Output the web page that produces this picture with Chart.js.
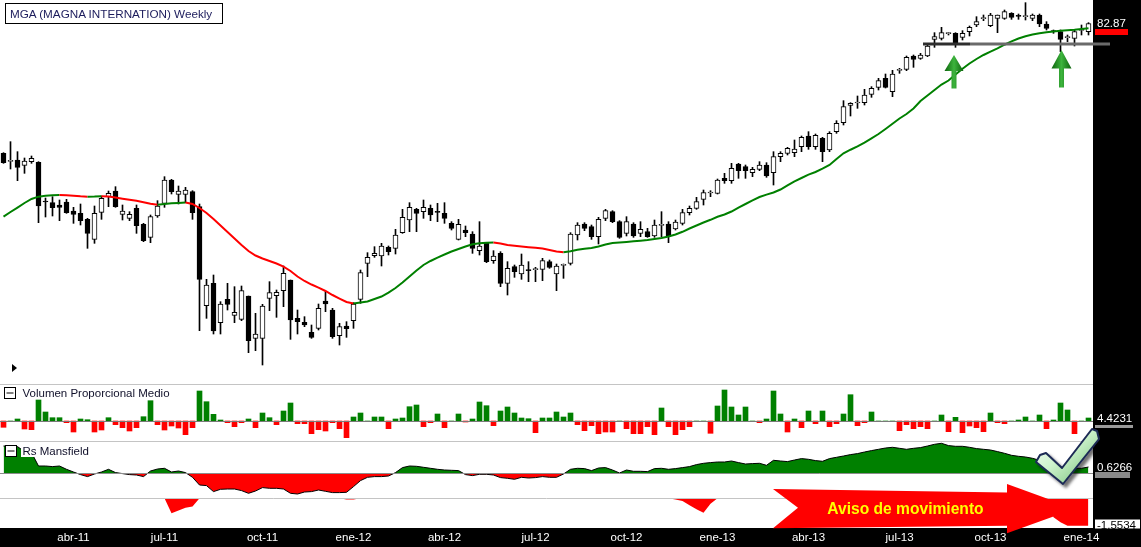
<!DOCTYPE html>
<html>
<head>
<meta charset="utf-8">
<title>MGA Weekly</title>
<script src="https://cdn.jsdelivr.net/npm/chart.js@4.4.1/dist/chart.umd.min.js"></script>
<style>
  html, body { margin: 0; padding: 0; background: #fff; }
  #wrap { position: relative; width: 1141px; height: 547px; overflow: hidden; background: #fff; }
  canvas.pane { position: absolute; left: 0; }
  #strip { position: absolute; left: 1093px; top: 0; width: 48px; height: 547px; background: #000; }
  #band { position: absolute; left: 0; top: 528px; width: 1141px; height: 19px; background: #000; }
  .sep { position: absolute; left: 0; width: 1093px; height: 1px; background: #c4c4c4; }
  #overlay { position: absolute; left: 0; top: 0; pointer-events: none; font-family: 'Liberation Sans', Arial, sans-serif; }
</style>
</head>
<body>
<div id="wrap">
  <div id="strip"></div>
  <div id="band"></div>
  <canvas id="price" class="pane" width="1141" height="383" style="top:0;width:1141px;height:383px"></canvas>
  <canvas id="volume" class="pane" width="1141" height="57" style="top:384px;width:1141px;height:57px"></canvas>
  <canvas id="rs" class="pane" width="1141" height="106" style="top:441px;width:1141px;height:106px"></canvas>
  <div class="sep" style="top:384px"></div>
  <div class="sep" style="top:441px"></div>

  <svg id="overlay" width="1141" height="547" viewBox="0 0 1141 547">
    <defs>
      <linearGradient id="arrowG" x1="0" y1="0" x2="1" y2="0">
        <stop offset="0" stop-color="#0d640d"/>
        <stop offset="0.5" stop-color="#3db43d"/>
        <stop offset="1" stop-color="#0d640d"/>
      </linearGradient>
      <linearGradient id="checkG" x1="0" y1="0" x2="1" y2="1">
        <stop offset="0" stop-color="#ffffff"/>
        <stop offset="0.45" stop-color="#cdf2cd"/>
        <stop offset="1" stop-color="#6cbc6c"/>
      </linearGradient>
      <filter id="shadow" x="-30%" y="-30%" width="170%" height="170%">
        <feDropShadow dx="3" dy="3" stdDeviation="1.5" flood-color="#000" flood-opacity="0.55"/>
      </filter>
    </defs>

    <!-- title -->
    <rect x="5.5" y="3.5" width="217" height="20" fill="#fff" stroke="#000"/>
    <text x="10" y="18" font-size="11.7" fill="#1c1c5c">MGA (MAGNA INTERNATION) Weekly</text>

    <!-- support line and arrows -->
    <line x1="923" y1="44" x2="970" y2="44" stroke="#2e2e2e" stroke-width="3"/>
    <line x1="970" y1="44" x2="1110" y2="44" stroke="#6a6a6a" stroke-width="3"/>
    <polygon points="954,55 963.5,71 956.5,71 956.5,88.5 951.5,88.5 951.5,71 944.5,71" fill="url(#arrowG)"/>
    <polygon points="1061.5,50 1071.5,68.5 1064,68.5 1064,87.5 1059,87.5 1059,68.5 1051.5,68.5" fill="url(#arrowG)"/>
    <polygon points="12,364 12,372 17,368" fill="#000"/>

    <!-- pane labels -->
    <rect x="21" y="386" width="148" height="13" fill="#fff"/>
    <rect x="4.5" y="387.5" width="11" height="11" fill="#fff" stroke="#000"/>
    <line x1="6.5" y1="393" x2="13.5" y2="393" stroke="#000"/>
    <text x="22.5" y="397.3" font-size="11.5" fill="#10102a">Volumen Proporcional Medio</text>

    <rect x="21" y="443" width="69" height="14" fill="#fff"/>
    <rect x="5.5" y="445.5" width="11" height="11" fill="#fff" stroke="#000"/>
    <line x1="7.5" y1="451" x2="14.5" y2="451" stroke="#000"/>
    <text x="22.5" y="454.5" font-size="11.5" fill="#10102a">Rs Mansfield</text>

    <!-- right axis values -->
    <text x="1097" y="27.3" font-size="11.5" fill="#fff">82.87</text>
    <rect x="1095" y="29" width="33" height="6" fill="#ff0000"/>
    <text x="1097" y="421.7" font-size="11.5" fill="#fff">4.4231</text>
    <rect x="1095" y="425" width="38" height="3" fill="#9a9a9a"/>
    <text x="1097" y="470.7" font-size="11.5" fill="#fff">0.6266</text>
    <rect x="1095" y="472" width="35" height="6" fill="#8a8a8a"/>
    <rect x="1095" y="519.5" width="45" height="9" fill="#fff"/>
    <text x="1097" y="529" font-size="11.5" fill="#000">-1.5534</text>

    <!-- warning arrow -->
    <polygon points="773,489 1007,492.5 1007,484 1075,508.7 1007,533.3 1007,525.7 773,528.3 798,507.7" fill="#ff0000"/>
    <text x="905.5" y="514" font-size="15.6" font-weight="bold" fill="#ffff00" text-anchor="middle">Aviso de movimiento</text>

    <!-- check mark -->
    <polygon points="1036,462 1040,455 1046,453 1062,468 1092,429 1097,431 1099,439 1063,484"
             fill="url(#checkG)" stroke="#1c2a55" stroke-width="2" stroke-linejoin="round" filter="url(#shadow)"/>
  </svg>
</div>

<script>
// Weekly candles, MGA, from 21 Jan 2011 to 10 Jan 2014
const open = [
  63.4, 62.2, 62.4, 61.6, 62.15, 62.05, 56.2, 56.0, 55.65, 56.1,
  54.75, 54.4, 53.5, 50.5, 54.55, 56.9, 57.75, 54.25, 53.65, 55.15,
  52.75, 50.8, 54.0, 55.9, 59.4, 57.25, 57.25, 57.65, 55.4, 40.55,
  43.9, 38.0, 41.5, 39.1, 38.5, 42.0, 35.65, 35.65, 41.65, 42.05,
  42.8, 44.4, 38.65, 38.05, 36.55, 37.15, 41.25, 39.9, 36.05, 37.5,
  38.3, 41.5, 46.9, 48.05, 48.0, 49.3, 49.15, 51.5, 53.4, 55.0,
  54.65, 55.15, 54.65, 54.4, 52.9, 50.5, 51.9, 51.3, 48.8, 49.9,
  47.3, 48.4, 43.9, 46.4, 45.3, 45.9, 45.95, 46.0, 47.15, 45.3,
  46.6, 46.9, 51.15, 52.8, 52.4, 50.9, 53.65, 54.65, 53.15, 51.4,
  52.8, 51.4, 51.65, 51.0, 52.6, 52.8, 52.05, 52.9, 54.5, 55.15,
  56.5, 57.45, 57.4, 59.65, 59.3, 61.8, 61.4, 60.5, 61.0, 61.65,
  60.5, 62.9, 63.4, 63.5, 64.4, 66.0, 64.4, 65.65, 63.9, 66.65,
  68.0, 70.6, 70.95, 71.0, 72.25, 73.3, 74.65, 72.65, 75.85, 76.0,
  78.0, 77.65, 78.0, 80.5, 80.65, 81.35, 81.4, 80.8, 81.65, 82.65,
  83.6, 82.55, 83.65, 83.65, 84.4, 84.0, 83.9, 83.65, 84.15, 82.8,
  81.7, 81.65, 80.75, 80.65, 81.85, 81.65
];
const high = [
  63.5, 65.15, 63.65, 62.7, 63.0, 62.15, 56.7, 56.9, 56.4, 56.5,
  55.3, 55.8, 53.65, 55.5, 57.0, 57.75, 58.4, 55.65, 54.65, 55.65,
  52.9, 54.15, 56.3, 59.9, 59.5, 58.5, 58.3, 57.8, 55.8, 44.5,
  45.15, 41.15, 43.9, 43.4, 43.5, 42.0, 39.4, 40.75, 44.15, 42.9,
  46.5, 44.4, 39.9, 38.9, 37.65, 40.8, 42.65, 40.15, 37.9, 38.15,
  41.0, 45.9, 48.5, 49.4, 49.9, 49.5, 52.0, 55.0, 56.0, 55.15,
  56.4, 55.65, 55.9, 56.0, 53.15, 53.5, 52.5, 51.65, 53.15, 50.0,
  48.8, 48.65, 47.15, 46.65, 48.3, 47.15, 46.3, 47.65, 47.4, 46.8,
  46.8, 51.5, 53.0, 53.0, 52.65, 53.8, 55.0, 54.8, 53.3, 53.9,
  53.0, 53.15, 52.15, 53.4, 54.65, 53.15, 53.4, 55.0, 55.5, 56.8,
  57.9, 57.8, 59.55, 60.4, 61.9, 61.9, 61.65, 61.3, 62.15, 62.0,
  63.65, 63.65, 64.3, 65.4, 66.0, 66.65, 66.3, 65.8, 66.65, 68.3,
  71.3, 71.0, 72.0, 73.0, 73.4, 74.65, 75.3, 75.85, 76.15, 78.0,
  78.15, 78.4, 79.65, 81.5, 82.3, 81.5, 81.5, 81.8, 82.5, 83.9,
  84.15, 84.4, 84.15, 84.9, 84.5, 84.3, 86.0, 84.3, 84.3, 83.15,
  81.9, 81.9, 81.15, 82.0, 82.65, 83.0
];
const low = [
  61.9, 61.05, 59.3, 60.4, 61.9, 53.0, 53.85, 54.0, 53.3, 54.4,
  52.9, 52.65, 49.15, 49.9, 53.5, 55.4, 55.3, 53.4, 53.3, 51.4,
  50.15, 50.0, 53.8, 55.3, 57.3, 55.8, 56.0, 53.5, 36.8, 38.65,
  36.3, 36.3, 39.9, 38.0, 38.3, 33.5, 33.8, 31.65, 39.8, 38.8,
  40.4, 35.5, 36.3, 37.4, 35.65, 36.9, 39.65, 35.65, 34.65, 35.8,
  37.15, 40.9, 44.9, 47.8, 46.5, 48.15, 48.3, 51.4, 51.65, 51.65,
  53.65, 53.3, 53.15, 52.9, 51.9, 50.4, 50.9, 48.4, 48.15, 47.0,
  46.9, 43.4, 42.15, 44.8, 44.5, 44.15, 44.15, 44.3, 46.15, 42.8,
  44.65, 46.65, 50.4, 51.8, 50.5, 49.8, 53.3, 53.0, 50.65, 51.0,
  50.8, 50.9, 50.8, 50.8, 50.9, 50.0, 51.9, 52.65, 54.15, 55.0,
  55.65, 56.9, 57.3, 58.9, 58.9, 59.65, 59.65, 59.9, 60.8, 59.8,
  58.65, 62.15, 63.15, 62.9, 63.65, 64.0, 64.0, 62.15, 63.65, 66.4,
  67.65, 69.0, 70.15, 70.65, 71.8, 72.9, 73.2, 71.9, 75.4, 75.8,
  76.3, 77.5, 77.9, 79.3, 80.4, 81.15, 79.3, 80.4, 81.0, 82.4,
  83.3, 82.4, 81.5, 83.5, 83.5, 83.5, 83.4, 83.3, 82.4, 81.9,
  81.4, 78.65, 80.15, 79.5, 81.15, 81.15
];
const close = [
  62.0, 62.3, 61.3, 62.25, 62.65, 55.5, 56.1, 55.25, 55.3, 54.5,
  54.25, 53.3, 51.4, 54.4, 56.65, 57.4, 55.4, 54.75, 54.25, 52.55,
  50.3, 53.9, 55.5, 59.4, 57.65, 57.75, 57.9, 54.5, 44.5, 43.65,
  36.75, 40.8, 40.75, 39.55, 42.8, 35.3, 36.3, 40.5, 42.5, 42.55,
  45.4, 38.4, 38.15, 37.65, 35.8, 40.15, 40.8, 35.9, 37.4, 37.1,
  40.8, 45.5, 47.8, 48.4, 49.5, 48.65, 51.15, 53.8, 55.3, 54.4,
  55.3, 54.15, 54.55, 53.65, 52.15, 52.75, 51.5, 49.15, 49.5, 47.15,
  48.0, 43.9, 46.15, 45.65, 46.65, 45.8, 46.0, 47.3, 46.3, 46.5,
  46.65, 51.3, 52.65, 52.15, 50.9, 53.5, 54.8, 53.15, 50.8, 53.15,
  51.0, 52.0, 50.9, 52.65, 52.7, 51.0, 53.1, 54.5, 55.15, 56.15,
  57.5, 57.5, 59.4, 59.3, 61.15, 60.8, 60.8, 61.0, 61.65, 60.0,
  62.9, 63.4, 64.15, 64.05, 65.8, 64.4, 66.1, 63.65, 66.4, 67.9,
  70.4, 70.9, 71.0, 72.15, 73.15, 74.3, 73.3, 75.3, 75.9, 77.8,
  77.5, 78.15, 79.5, 80.9, 81.5, 81.4, 79.9, 81.4, 82.3, 83.15,
  83.65, 84.15, 84.15, 84.65, 83.8, 83.95, 83.95, 84.15, 82.8, 82.15,
  81.65, 80.5, 80.8, 81.65, 81.9, 82.87
];

// 30-week moving average (green rising, red falling)
const average = [
  53.9, 54.6, 55.27, 55.95, 56.55, 56.9, 57.04, 57.12, 57.15, 57.12,
  57.04, 56.95, 56.9, 56.92, 56.97, 56.94, 56.77, 56.6, 56.43, 56.28,
  56.07, 55.83, 55.7, 55.8, 55.9, 55.96, 56.01, 55.8, 55.2, 54.45,
  53.55, 52.57, 51.6, 50.62, 49.65, 48.75, 48.07, 47.62, 47.25, 46.87,
  46.4, 45.75, 44.92, 44.25, 43.72, 43.27, 42.75, 42.15, 41.62, 41.1,
  40.87, 41.02, 41.17, 41.55, 41.92, 42.52, 43.2, 44.02, 44.92, 45.82,
  46.65, 47.25, 47.77, 48.22, 48.67, 49.05, 49.42, 49.75, 49.9, 49.98,
  50.01, 49.87, 49.65, 49.53, 49.42, 49.32, 49.23, 49.12, 48.9, 48.67,
  48.57, 48.7, 48.93, 49.08, 49.2, 49.42, 49.72, 49.95, 50.02, 50.1,
  50.2, 50.3, 50.4, 50.55, 50.7, 50.92, 51.22, 51.63, 52.12, 52.57,
  53.02, 53.43, 53.88, 54.22, 54.67, 55.27, 55.8, 56.35, 56.85, 57.2,
  57.52, 57.97, 58.6, 59.2, 59.7, 60.2, 60.6, 61.1, 61.65, 62.55,
  63.4, 63.94, 64.45, 65.02, 65.65, 66.3, 67.05, 67.83, 68.62, 69.3,
  70.12, 71.25, 72.07, 72.9, 73.72, 74.32, 75.22, 76.09, 76.87, 77.55,
  78.15, 78.67, 79.15, 79.69, 80.2, 80.62, 80.95, 81.22, 81.4, 81.55,
  81.67, 81.78, 81.87, 81.94, 82.05, 82.15
];

// Volumen Proporcional Medio (above / below average)
const volume = [
  -0.63, 0, 0.2, -0.8, -0.87, 2.1, 0.9, 0.33, 0.33, -0.17,
  -1.1, 0.2, 0.13, -1.1, -0.9, 0.33, -0.37, -0.67, -1.0, -0.67,
  0.43, 2.03, -0.37, -0.9, -0.5, -0.7, -1.37, -0.67, 3.0, 1.93,
  0.67, 0.1, -0.17, -0.57, -0.17, 0.2, -0.67, 0.8, 0.33, -0.37,
  1.0, 1.8, -0.27, -0.27, -1.27, -0.87, -1.0, -0.17, -0.77, -1.67,
  0.4, 0.8, 0, 0.4, 0.4, -0.77, 0.2, 0.3, 1.43, 1.6,
  -0.57, -0.17, 0.7, -0.67, 0, 0.7, -0.1, 0.2, 1.9, 1.53,
  -0.47, 1.0, 1.4, 0.8, 0.3, 0.23, -1.17, 0.3, 0.3, 0.9,
  0.4, 0.8, -0.37, -0.97, -0.47, -1.27, -1.1, -1.1, 0, -0.77,
  -1.27, -1.27, -0.57, -1.37, 1.3, -0.57, -1.37, -0.87, -0.57, 0,
  0, -1.23, 1.5, 3.1, 1.4, 0.6, 1.4, 0, -0.17, 0.2,
  3.0, 0.7, -1.1, 0.2, -0.67, 1.0, -0.27, 1.0, -0.57, -0.27,
  0.7, 2.63, -0.47, -0.17, 0.9, 0, 0, 0, -0.97, -0.37,
  -0.77, -0.57, -0.77, 0, 0.6, -1.07, 0.37, -1.17, -0.5, -0.67,
  -1.07, 0.8, -0.17, -0.27, 0, 0.1, 0.4, 0, 0.6, -0.77,
  0.1, 1.8, 1.1, -1.27, 0, 0.3
];

// Rs Mansfield
const mansfield = [
  2.73, 2.73, 2.67, 2.17, 2.07, 0.73, 0.73, 0.67, 0.73, 0.4,
  0.13, -0.13, -0.33, -0.07, 0.13, 0.4, 0.07, -0.03, -0.13, -0.17,
  -0.33, 0.23, 0.43, 0.5, 0.13, 0.23, 0.07, -0.4, -1.17, -1.23,
  -1.83, -1.6, -1.57, -1.57, -1.73, -2.0, -1.77, -1.43, -1.5, -1.5,
  -1.57, -2.0, -2.07, -1.87, -1.83, -1.67, -1.8, -1.93, -1.93, -1.9,
  -1.33, -0.73, -0.4, -0.33, -0.33, -0.27, 0.07, 0.57, 0.73, 0.7,
  0.6, 0.5, 0.4, 0.33, 0.3, 0.27, -0.13, -0.23, -0.1, -0.1,
  -0.17, -0.43, -0.5, -0.6, -0.4, -0.47, -0.43, -0.33, -0.4, -0.4,
  -0.07, 0.4, 0.5, 0.47, 0.27, 0.53, 0.57, 0.33, 0.03, 0.33,
  0.2, 0.2, 0.17, 0.47, 0.5, 0.4, 0.47, 0.57, 0.67, 0.87,
  1.0, 1.07, 1.13, 1.13, 1.23, 1.07, 0.93, 0.97, 1.0, 0.8,
  1.3, 1.23, 1.17, 1.33, 1.47, 1.4, 1.27, 1.2, 1.47, 1.6,
  1.73, 1.87, 1.97, 2.13, 2.27, 2.4, 2.53, 2.6, 2.5, 2.4,
  2.5, 2.57, 2.73, 2.9, 3.0, 2.77, 2.7, 2.7, 2.6, 2.47,
  2.4, 2.33, 2.17, 2.0, 1.8, 1.7, 1.63, 1.5, 1.3, 1.07,
  0.83, 0.63, 0.5, 0.5, 0.5, 0.63
];

// lower signal band of the Rs pane (only the negative part shows)
const signal = [
  0, 0, 0, 0, 0, 0, 0, 0, 0, 0,
  0, 0, 0, 0, 0, 0, 0, 0, 0, 0,
  0, 0, 0, 0, -1.5, -1.22, -0.95, -0.83, 0, 0,
  0, 0, 0, 0, 0, 0, 0, 0, 0, 0,
  0, 0, 0, 0, 0, 0, 0, 0, 0, -0.12,
  -0.12, 0, 0, 0, 0, 0, 0, 0, 0, 0,
  0, 0, 0, 0, 0, 0, 0, 0, 0, 0,
  0, 0, 0, 0, 0, 0, 0, 0, 0, 0,
  0, 0, 0, 0, 0, 0, 0, 0, 0, 0,
  0, 0, 0, 0, 0, 0, -0.13, -0.27, -0.7, -1.1,
  -1.45, -0.55, 0, 0, 0, 0, 0, 0, 0, 0,
  0, 0, 0, 0, 0, 0, 0, 0, 0, 0,
  0, 0, 0, 0, 0, 0, 0, 0, 0, 0,
  0, 0, 0, 0, 0, 0, 0, 0, 0, 0,
  0, 0, 0, 0, 0, 0, 0, 0, 0, 0,
  -1.9, -2.4, -2.75, -2.75, -2.75, -2.75
];

const monthNames = ['ene', 'feb', 'mar', 'abr', 'may', 'jun', 'jul', 'ago', 'sep', 'oct', 'nov', 'dic'];
const tickMonths = [0, 3, 6, 9];

const GREEN = '#008000';
const RED = '#ff0000';

// week dates (Fridays)
const weekDates = close.map((_, i) => new Date(2011, 0, 21 + 7 * i));
const labels = weekDates.map(d => d.getFullYear() + '-' + (d.getMonth() + 1) + '-' + d.getDate());

// horizontal reference lines (zero lines etc.)
const refLines = {
  id: 'refLines',
  afterDatasetsDraw(chart, args, opts) {
    const { ctx, chartArea } = chart;
    (opts.lines || []).forEach(l => {
      const y = Math.round(chart.scales[l.axis].getPixelForValue(l.value)) + 0.5;
      ctx.save();
      ctx.strokeStyle = l.color;
      ctx.lineWidth = 1;
      ctx.beginPath();
      ctx.moveTo(chartArea.left, y);
      ctx.lineTo(chartArea.right + 1, y);
      ctx.stroke();
      ctx.restore();
    });
  }
};

const baseOptions = {
  responsive: false,
  animation: false,
  devicePixelRatio: 1,
  events: [],
  layout: { padding: { left: 0, top: 0, bottom: 0, right: 49 } },
  plugins: { legend: { display: false }, tooltip: { enabled: false } }
};

// price pane
new Chart(document.getElementById('price'), {
  type: 'bar',
  data: {
    labels: labels,
    datasets: [
      {
        type: 'line',
        data: average,
        borderColor: GREEN,
        borderWidth: 2,
        pointRadius: 0,
        segment: { borderColor: c => (c.p1.parsed.y >= c.p0.parsed.y ? GREEN : RED) },
        order: 0
      },
      {
        data: open.map((o, i) => [o, close[i]]),
        backgroundColor: open.map((o, i) => (close[i] >= o ? '#fff' : '#000')),
        borderColor: '#000',
        borderWidth: 1,
        borderSkipped: false,
        barThickness: 5,
        minBarLength: 1,
        grouped: false,
        order: 1
      },
      {
        data: low.map((l, i) => [l, high[i]]),
        backgroundColor: '#000',
        barThickness: 1,
        grouped: false,
        order: 2
      }
    ]
  },
  options: {
    ...baseOptions,
    scales: {
      x: { display: false, offset: true },
      y: { display: false, min: 28.95, max: 86.4 }
    }
  }
});

// volume pane
new Chart(document.getElementById('volume'), {
  type: 'bar',
  data: {
    labels: labels,
    datasets: [{
      data: volume,
      backgroundColor: volume.map(v => (v >= 0 ? GREEN : RED)),
      barThickness: 5
    }]
  },
  options: {
    ...baseOptions,
    plugins: { ...baseOptions.plugins, refLines: { lines: [{ axis: 'y', value: 0, color: '#7a7a7a' }] } },
    scales: {
      x: { display: false, offset: true },
      y: { display: false, min: -2.0, max: 3.7 }
    }
  },
  plugins: [refLines]
});

// Rs Mansfield pane with the date axis
new Chart(document.getElementById('rs'), {
  type: 'line',
  data: {
    labels: labels,
    datasets: [
      {
        data: mansfield,
        borderColor: '#000',
        borderWidth: 1,
        pointRadius: 0,
        fill: { target: 'origin', above: GREEN, below: RED },
        order: 0
      },
      {
        data: signal,
        yAxisID: 'y2',
        borderWidth: 0,
        borderColor: 'rgba(0,0,0,0)',
        pointRadius: 0,
        fill: { target: 'origin', above: 'rgba(0,0,0,0)', below: RED },
        order: 1
      }
    ]
  },
  options: {
    ...baseOptions,
    plugins: {
      ...baseOptions.plugins,
      refLines: {
        lines: [
          { axis: 'y', value: 0, color: '#8c8c8c' },
          { axis: 'y2', value: 0, color: '#c4c4c4' }
        ]
      }
    },
    scales: {
      x: {
        offset: true,
        grid: { display: false, drawTicks: false },
        border: { display: false },
        ticks: {
          autoSkip: false,
          maxRotation: 0,
          minRotation: 0,
          padding: 3,
          color: '#fff',
          font: { family: 'Liberation Sans', size: 11.5 },
          callback: function (value, index) {
            const d = weekDates[index];
            if (d.getDate() <= 7 && tickMonths.includes(d.getMonth())) {
              return monthNames[d.getMonth()] + '-' + String(d.getFullYear()).slice(2);
            }
            return '';
          }
        },
        afterFit: function (axis) { axis.height = 19; }
      },
      y: { display: false, min: -5.47, max: 3.23 },
      y2: { display: false, min: -2.97, max: 5.73 }
    }
  },
  plugins: [refLines]
});
</script>
</body>
</html>
